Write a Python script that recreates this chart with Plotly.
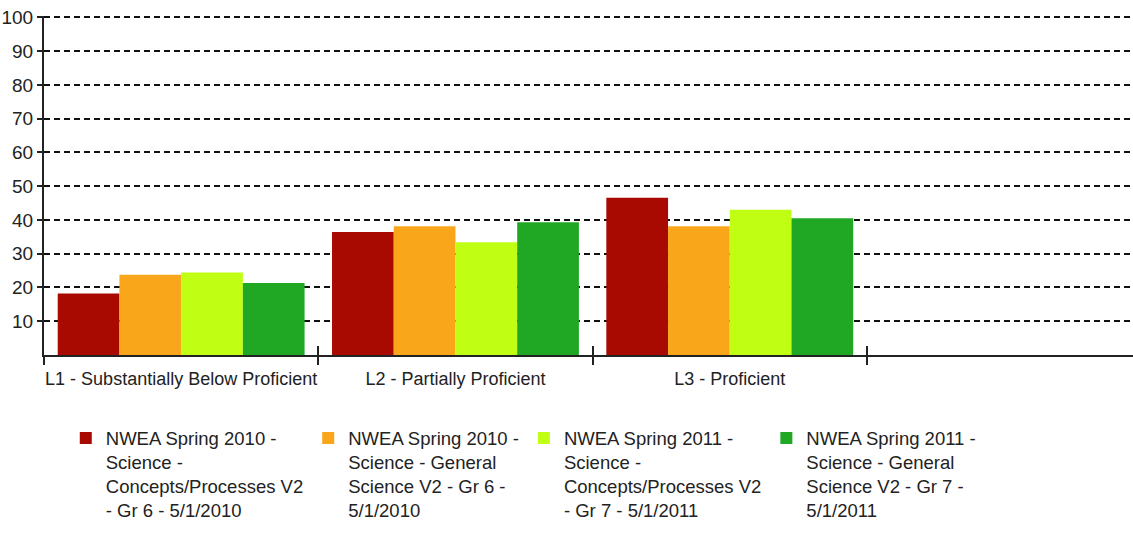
import plotly.graph_objects as go

categories = ["L1 - Substantially Below Proficient", "L2 - Partially Proficient", "L3 - Proficient"]
series_names = [
    "NWEA Spring 2010 -<br>Science -<br>Concepts/Processes V2<br>- Gr 6 - 5/1/2010",
    "NWEA Spring 2010 -<br>Science - General<br>Science V2 - Gr 6 -<br>5/1/2010",
    "NWEA Spring 2011 -<br>Science -<br>Concepts/Processes V2<br>- Gr 7 - 5/1/2011",
    "NWEA Spring 2011 -<br>Science - General<br>Science V2 - Gr 7 -<br>5/1/2011",
]
s2010_cp = [18.2, 36.4, 46.6]
s2010_gs = [23.8, 38.1, 38.1]
s2011_cp = [24.4, 33.4, 43.0]
s2011_gs = [21.3, 39.3, 40.5]
colors = ["#A80A02", "#FAA61A", "#C0FF14", "#20A824"]
y_ticks = [10, 20, 30, 40, 50, 60, 70, 80, 90, 100]

FONT = "Liberation Sans, Arial, sans-serif"

x_pos = list(range(len(categories)))
fig = go.Figure()
for name, vals, col in zip(series_names, [s2010_cp, s2010_gs, s2011_cp, s2011_gs], colors):
    fig.add_trace(go.Bar(x=x_pos, y=vals, name=name, marker=dict(color=col, line=dict(width=0))))

fig.update_layout(
    width=1133, height=540,
    margin=dict(l=44, r=0, t=16, b=185),
    paper_bgcolor="white", plot_bgcolor="white",
    barmode="group", bargap=0.1, bargroupgap=0,
    font=dict(family=FONT, size=18, color="#222222"),
    showlegend=True,
    legend=dict(orientation="h", x=0.02, xanchor="left", y=-0.19, yanchor="top",
                valign="top",
                font=dict(family=FONT, size=18.5, color="#222222"),
                traceorder="normal", itemwidth=30, tracegroupgap=0),
    xaxis=dict(range=[-0.5, 3.47], tickvals=x_pos, ticktext=categories, ticks="",
               automargin=False,
               showgrid=False, zeroline=False, showline=True, linecolor="#222222", linewidth=2,
               ticklabelstandoff=6,
               tickfont=dict(family=FONT, size=18, color="#222222"),
               minor=dict(tick0=0.5, dtick=1, ticks="outside", ticklen=8, tickcolor="#222222", tickwidth=1.5, showgrid=False)),
    xaxis2=dict(range=[-0.5, 3.47], overlaying="x", anchor="y", side="bottom", automargin=False,
                tickvals=[0.5, 1.5, 2.5], ticks="inside", ticklen=9, tickcolor="#222222", tickwidth=1.5,
                showticklabels=False, showgrid=False, zeroline=False, showline=False),
    yaxis=dict(range=[0, 100.4], tickvals=y_ticks, ticks="outside", ticklen=5, tickcolor="#222222", tickwidth=1.5,
               automargin=False,
               showgrid=True, gridcolor="#111111", gridwidth=2, griddash="6px,4px",
               zeroline=False, showline=True, linecolor="#222222", linewidth=2,
               tickfont=dict(family=FONT, size=19, color="#222222")),
)
# invisible trace to activate xaxis2 ticks
fig.add_trace(go.Scatter(x=[0], y=[0], xaxis="x2", mode="markers", marker=dict(opacity=0), showlegend=False, hoverinfo="skip"))

fig.write_html("out.html", config={"displayModeBar": False},
               post_script="document.body.style.margin='0';")
